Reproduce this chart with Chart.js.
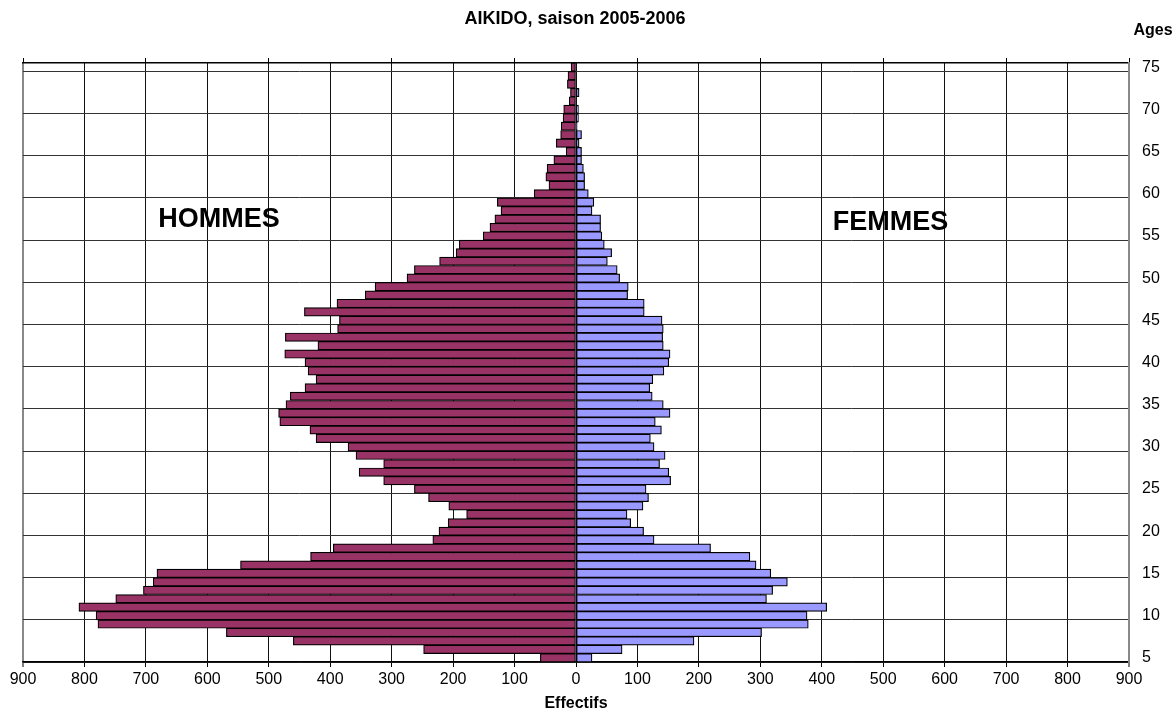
<!DOCTYPE html>
<html><head><meta charset="utf-8">
<script src="https://cdn.jsdelivr.net/npm/chart.js@4.4.1/dist/chart.umd.min.js"></script>
<style>html,body{margin:0;padding:0;background:#fff;}</style>
</head><body>
<canvas id="c" width="1174" height="722"></canvas>
<script>
// Categories: ages 5..75
const ages = [5,6,7,8,9,10,11,12,13,14,15,16,17,18,19,20,21,22,23,24,25,26,27,28,29,30,31,32,33,34,35,36,37,38,39,40,41,42,43,44,45,46,47,48,49,50,51,52,53,54,55,56,57,58,59,60,61,62,63,64,65,66,67,68,69,70,71,72,73,74,75];
// Effectifs hommes (by age, 5..75)
const hommes = [58,248,460,569,778,781,809,749,704,688,682,546,432,395,233,223,208,178,207,240,263,313,353,313,358,371,423,433,482,484,472,465,441,423,436,441,474,420,473,388,385,442,389,343,327,275,263,222,195,190,151,140,132,122,128,68,44,49,47,36,16,32,25,24,21,20,11,9,14,13,8];
// Effectifs femmes (by age, 5..75)
const femmes = [26,75,192,302,378,376,408,310,320,344,317,293,283,219,127,110,89,83,109,118,114,154,151,136,145,127,121,139,129,153,142,124,120,125,143,151,153,142,141,142,140,111,111,84,85,71,67,51,58,46,42,40,40,26,29,20,14,14,12,9,9,5,9,2,4,4,0,5,0,0,0];
// Tick labels
const ageTickLabels = [5,10,15,20,25,30,35,40,45,50,55,60,65,70,75];
const xTickValues = [-900,-800,-700,-600,-500,-400,-300,-200,-100,0,100,200,300,400,500,600,700,800,900];

const FONT = "'Liberation Sans', Arial, sans-serif";

const textPlugin = {
  id: 'texts',
  afterDraw(chart) {
    const ctx = chart.ctx;
    const xs = chart.scales.x, ys = chart.scales.y;
    ctx.save();
    ctx.fillStyle = '#000';
    ctx.textBaseline = 'middle';
    ctx.textAlign = 'center';
    ctx.font = "bold 18px " + FONT;
    ctx.fillText('AIKIDO, saison 2005-2006', 575, 19);
    ctx.font = "bold 16px " + FONT;
    ctx.fillText('Ages', 1153, 31);
    ctx.font = "bold 27px " + FONT;
    ctx.fillText('HOMMES', xs.getPixelForValue(-581), ys.getPixelForValue(51.9));
    ctx.fillText('FEMMES', xs.getPixelForValue(512), ys.getPixelForValue(51.6));
    ctx.restore();
  }
};

new Chart(document.getElementById('c'), {
  type: 'bar',
  data: {
    labels: ages,
    datasets: [
      { label: 'HOMMES', data: hommes.map(v => -v), backgroundColor: '#993366', borderColor: '#000', borderWidth: 1.2, barPercentage: 1, categoryPercentage: 1, borderSkipped: false },
      { label: 'FEMMES', data: femmes, backgroundColor: '#9999FF', borderColor: '#000', borderWidth: 1.2, barPercentage: 1, categoryPercentage: 1, borderSkipped: false }
    ]
  },
  options: {
    indexAxis: 'y',
    responsive: false,
    devicePixelRatio: 1,
    animation: false,
    layout: { padding: { top: 58, left: 23, right: 0, bottom: 0 } },
    plugins: { legend: { display: false }, tooltip: { enabled: false }, title: { display: false } },
    scales: {
      x: {
        type: 'linear', position: 'bottom', min: -900, max: 900, stacked: true,
        afterBuildTicks: (s) => { s.ticks = xTickValues.map(v => ({ value: v })); },
        afterFit: (s) => { s.height = 60; },
        ticks: { callback: (v) => String(Math.abs(v)), color: '#000', font: { family: FONT, size: 16 }, padding: 3, maxRotation: 0, autoSkip: false },
        grid: { color: (c) => (c.tick && Math.abs(c.tick.value) === 900) ? '#888' : '#111', lineWidth: (c) => (c.tick && Math.abs(c.tick.value) === 900) ? 2 : 1, tickLength: 5, tickColor: '#000', tickWidth: 1 },
        border: { display: true, color: '#000', width: 1.5 },
        title: { display: true, text: 'Effectifs', color: '#000', font: { family: FONT, size: 16, weight: 'bold' }, padding: { top: 0, bottom: 9 } }
      },
      x2: {
        type: 'linear', position: 'top', min: -900, max: 900,
        ticks: { display: false, stepSize: 200 },
        grid: { drawOnChartArea: false, tickLength: 5, color: '#000', tickColor: '#000' },
        border: { display: true, color: '#000', width: 1.5 }
      },
      y: {
        type: 'category', position: 'right', reverse: true, stacked: true, offset: true,
        afterFit: (s) => { s.width = 45; },
        ticks: { autoSkip: false, padding: 13, color: '#000', font: { family: FONT, size: 16 },
          callback: function(val, idx) { const a = ages[idx]; return ageTickLabels.includes(a) ? String(a) : ''; } },
        grid: { offset: true, drawTicks: false, color: (c) => (c.index % 5 === 0 && c.index <= 70) ? '#333' : 'rgba(0,0,0,0)', lineWidth: 1 },
        border: { display: true, color: '#888', width: 2 }
      }
    }
  },
  plugins: [textPlugin]
});
</script>
</body></html>
